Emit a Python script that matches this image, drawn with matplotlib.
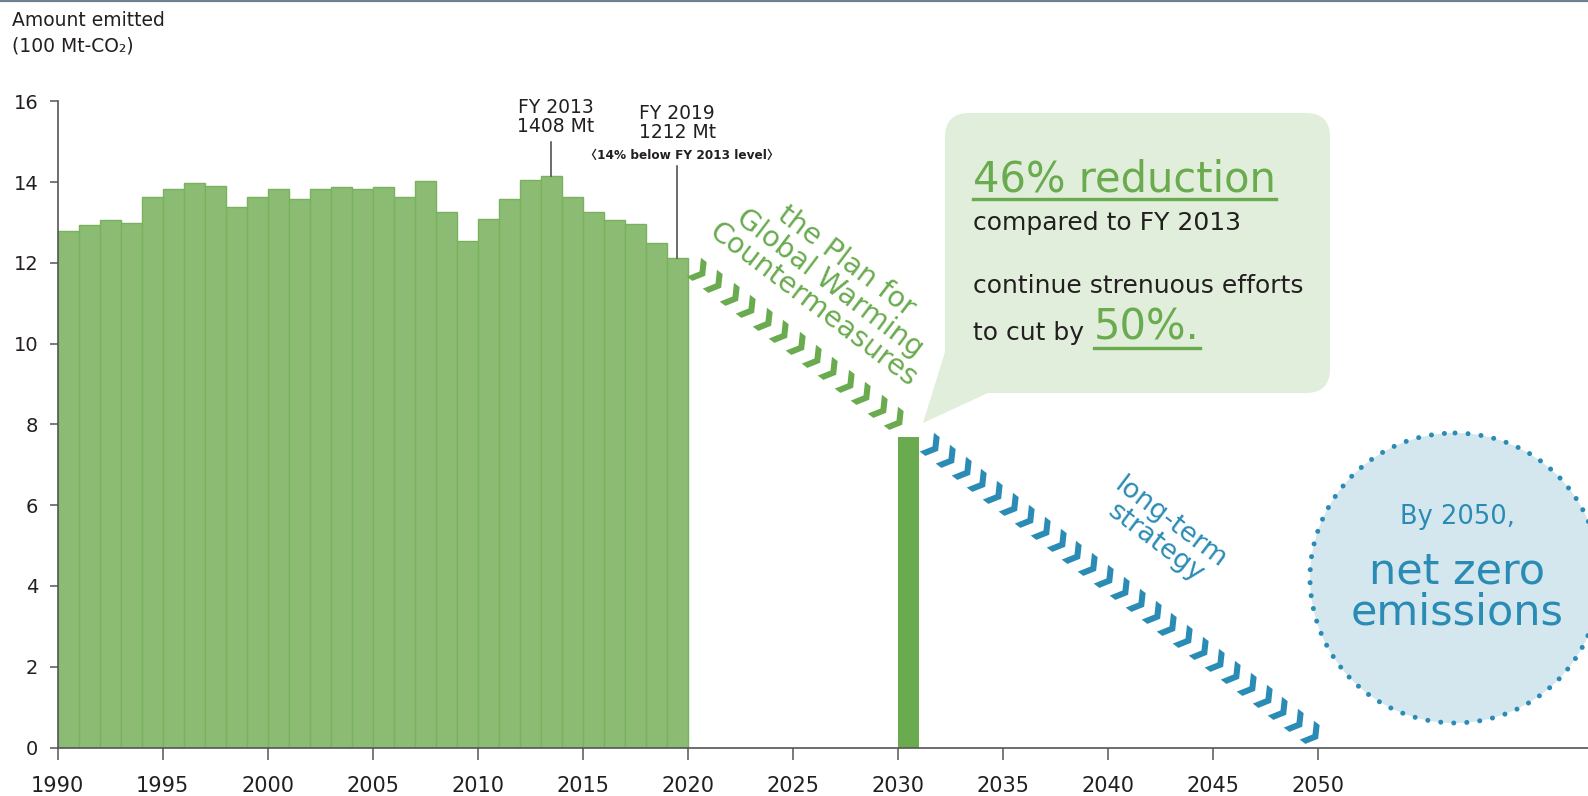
import numpy as np
import matplotlib
matplotlib.use("Agg")
from matplotlib import pyplot as plt
from matplotlib.patches import FancyBboxPatch, Polygon, Circle
from matplotlib.markers import MarkerStyle
from matplotlib.path import Path
from matplotlib.transforms import Affine2D

plt.rcParams['font.family'] = ['DejaVu Sans', 'Noto Sans CJK JP']

# emissions, 100 Mt-CO2, FY1990-FY2019
years = list(range(1990, 2020))
emissions = [12.79, 12.93, 13.06, 12.98, 13.64, 13.84, 13.97, 13.91, 13.39, 13.64,
             13.84, 13.58, 13.83, 13.88, 13.83, 13.87, 13.64, 14.02, 13.25, 12.53,
             13.08, 13.59, 14.04, 14.15, 13.64, 13.27, 13.06, 12.96, 12.50, 12.12]
target_year = 2030
target_value = 7.7
xticks = list(range(1990, 2051, 5))
yticks = list(range(0, 17, 2))

GREEN = '#6aab4f'
LIGHT = '#8cbc73'
BLUE = '#2a8cb4'
DARK = '#231f20'

W, H = 1588, 796
fig = plt.figure(figsize=(W / 100, H / 100), dpi=100)

ax = fig.add_axes([57.7 / W, 1 - 747.5 / H, (W - 57.7) / W, (747.5 - 101.3) / H])
ax.set_xlim(1990, 1990 + (W - 57.7) / 21.0)
ax.set_ylim(0, 16)

ax.bar(years, emissions, width=1.0, align='edge', color=LIGHT,
       edgecolor='#79b25e', linewidth=1.0, zorder=2)
ax.bar([target_year], [target_value], width=1.0, align='edge', color=GREEN,
       linewidth=0, zorder=2)

for s in ['top', 'right']:
    ax.spines[s].set_visible(False)
ax.spines['left'].set_bounds(0, 16)
for s in ['left', 'bottom']:
    ax.spines[s].set_color('#555555')
    ax.spines[s].set_linewidth(1.2)
    ax.spines[s].set_zorder(3)
ax.set_xticks(xticks)
ax.set_yticks(yticks)
ax.tick_params(axis='x', length=8.6, width=1.1, pad=12, labelsize=15,
               colors='#555555', labelcolor=DARK)
ax.tick_params(axis='y', length=6, width=1.1, pad=8, labelsize=14,
               colors='#555555', labelcolor=DARK)

# callouts on bars
ax.plot([2013.5, 2013.5], [emissions[23], 15.0], color='#444444', lw=1.1, zorder=3)
ax.text(2013.7, 15.6, 'FY 2013\n1408 Mt', ha='center', va='center',
        fontsize=13.5, color=DARK, linespacing=1.0)
ax.plot([2019.5, 2019.5], [emissions[29], 14.4], color='#444444', lw=1.1, zorder=3)
ax.text(2019.5, 15.46, 'FY 2019\n1212 Mt', ha='center', va='center',
        fontsize=13.5, color=DARK, linespacing=1.0)
ax.text(2019.75, 14.65, '〈14% below FY 2013 level〉', ha='center', va='center',
        fontsize=8.7, color=DARK, fontweight='bold')

# chevron arrows
chev = Path([(-0.3, 0.5), (0.0, 0.5), (0.3, 0.0), (0.0, -0.5), (-0.3, -0.5),
             (0.0, 0.0), (-0.3, 0.5)],
            [Path.MOVETO] + [Path.LINETO] * 5 + [Path.CLOSEPOLY])


def chevrons(x0, y0, x1, y1, n, color):
    p0 = ax.transData.transform((x0, y0))
    p1 = ax.transData.transform((x1, y1))
    ang = np.degrees(np.arctan2(p1[1] - p0[1], p1[0] - p0[0]))
    m = MarkerStyle(chev, transform=Affine2D().rotate_deg(ang))
    ax.plot(np.linspace(x0, x1, n), np.linspace(y0, y1, n), linestyle='none',
            marker=m, markersize=17, markerfacecolor=color, markeredgewidth=0,
            clip_on=False, zorder=4)
    return ang


ang_g = chevrons(2020.54, 11.80, 2029.92, 8.11, 13, GREEN)
ang_b = chevrons(2031.63, 7.46, 2049.73, 0.33, 25, BLUE)

ax.text(2026.75, 11.5, 'the Plan for\nGlobal Warming\nCountermeasures',
        rotation=ang_g, rotation_mode='anchor', ha='center', va='center',
        multialignment='center', fontsize=20.5, color=GREEN, linespacing=0.98)
ax.text(2042.64, 5.31, 'long-term\nstrategy', rotation=ang_b, rotation_mode='anchor',
        ha='center', va='center', multialignment='center', fontsize=19.5,
        color=BLUE, linespacing=0.95)

# overlay in pixel coordinates for the speech bubble and the circle
oax = fig.add_axes([0, 0, 1, 1], zorder=5)
oax.set_xlim(0, W)
oax.set_ylim(H, 0)
oax.axis('off')

oax.plot([0, W], [1, 1], color='#6f8191', lw=1.6)
oax.text(12, 26, 'Amount emitted', fontsize=13.5, color=DARK, va='baseline')
oax.text(12, 51, '(100 Mt-CO₂)', fontsize=13.5, color=DARK, va='baseline')

BOX = '#e1eedb'
oax.add_patch(FancyBboxPatch((945, 113), 385, 280,
                             boxstyle='round,pad=0,rounding_size=24',
                             facecolor=BOX, edgecolor='none'))
oax.add_patch(Polygon([(945, 300), (945, 352), (923, 423), (988, 393), (1000, 300)],
                      closed=True, facecolor=BOX, edgecolor='none'))

fig.canvas.draw()
r = fig.canvas.get_renderer()
inv = oax.transData.inverted()


def right_edge(t):
    bb = t.get_window_extent(r)
    return inv.transform((bb.x1, bb.y0))[0]


t46 = oax.text(973, 192, '46% reduction', fontsize=30, color=GREEN, va='baseline')
oax.plot([973, right_edge(t46)], [198.5, 198.5], color=GREEN, lw=2.4)
oax.text(973, 230, 'compared to FY 2013', fontsize=18, color=DARK, va='baseline')
oax.text(973, 293, 'continue strenuous efforts', fontsize=18, color=DARK, va='baseline')
tcut = oax.text(973, 340, 'to cut by ', fontsize=18, color=DARK, va='baseline')
x50 = right_edge(tcut) + 2
t50 = oax.text(x50, 340, '50%.', fontsize=30, color=GREEN, va='baseline')
oax.plot([x50, right_edge(t50)], [347.5, 347.5], color=GREEN, lw=2.4)

oax.add_patch(Circle((1455, 578), 145, facecolor='#d4e7ef', edgecolor='none'))
ring = Circle((1455, 578), 145, fill=False, edgecolor=BLUE, linewidth=3.6,
              linestyle=(0, (0.01, 2.6)))
ring.set_capstyle('round')
oax.add_patch(ring)
oax.text(1457, 517, 'By 2050,', fontsize=18.5, color=BLUE, ha='center', va='center')
oax.text(1457, 592, 'net zero\nemissions', fontsize=31, color=BLUE, ha='center',
         va='center', linespacing=0.95)

fig.savefig('out.png', dpi=100)
